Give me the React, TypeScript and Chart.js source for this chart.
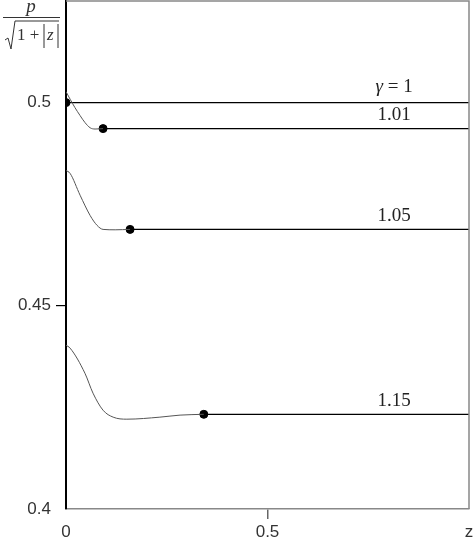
import React, { useEffect, useRef } from "react";
import { Chart, registerables } from "chart.js";

Chart.register(...registerables);

// Curve labels (gamma values)
const gammaLabels = ["1", "1.01", "1.05", "1.15"];
// End points of the transient part (dots), after which the curves are flat
const endZ = [0, 0.092, 0.159, 0.342];
const endP = [0.5, 0.4936, 0.4688, 0.4233];

// Transient curves
const z101 = [0, 0.011, 0.022, 0.035, 0.047, 0.06, 0.072, 0.092];
const p101 = [0.5027, 0.5007, 0.4988, 0.4968, 0.4951, 0.4938, 0.4935, 0.4936];
const z105 = [0, 0.01, 0.035, 0.06, 0.077, 0.092, 0.122, 0.159];
const p105 = [0.4833, 0.4826, 0.4772, 0.4722, 0.4698, 0.4688, 0.4687, 0.4688];
const z115 = [0, 0.01, 0.047, 0.067, 0.092, 0.117, 0.151, 0.233, 0.283, 0.342];
const p115 = [0.4403, 0.4396, 0.4334, 0.4285, 0.4243, 0.4226, 0.4221, 0.4226, 0.4231, 0.4233];

const xTicks = [0, 0.5, 1];
const xTickLabels = ["0", "0.5", "z"];
const yTicks = [0.4, 0.45, 0.5];
const yTickLabels = ["0.4", "0.45", "0.5"];
const labelZ = 0.814;

const SANS = "Arial, 'Liberation Sans', sans-serif";
const SERIF = "'Times New Roman', 'Liberation Serif', serif";

const pts = (xs: number[], ys: number[]) => xs.map((x, i) => ({ x, y: ys[i] }));

export default function App() {
  const ref = useRef<HTMLCanvasElement | null>(null);
  useEffect(() => {
    document.body.style.margin = "0";
    const canvas = ref.current!;
    const curveStyle = { borderColor: "#555", borderWidth: 1, pointRadius: 0, cubicInterpolationMode: "monotone" as const, fill: false };
    const flatStyle = { borderColor: "#000", borderWidth: 1.3, pointRadius: 0, fill: false, tension: 0 };
    const datasets: any[] = [
      { data: pts(z101, p101), ...curveStyle },
      { data: pts(z105, p105), ...curveStyle },
      { data: pts(z115, p115), ...curveStyle },
    ];
    endZ.forEach((z, i) => {
      datasets.push({ data: [{ x: z, y: endP[i] }, { x: 1, y: endP[i] }], ...flatStyle });
    });
    datasets.push({
      type: "scatter",
      data: pts(endZ, endP),
      pointRadius: 4,
      pointBackgroundColor: "#000",
      pointBorderColor: "#000",
      showLine: false,
    });

    const decor = {
      id: "decor",
      afterDraw(chart: any) {
        const { ctx, chartArea, scales } = chart;
        ctx.save();
        // frame (top and right)
        ctx.strokeStyle = "#888";
        ctx.lineWidth = 1.5;
        ctx.beginPath();
        ctx.moveTo(chartArea.left, chartArea.top);
        ctx.lineTo(chartArea.right, chartArea.top);
        ctx.lineTo(chartArea.right, chartArea.bottom);
        ctx.stroke();
        // curve labels
        ctx.fillStyle = "#222";
        ctx.textBaseline = "bottom";
        const xs = scales.x.getPixelForValue(labelZ);
        gammaLabels.forEach((lab, i) => {
          const y = scales.y.getPixelForValue(endP[i]) - 4;
          if (i === 0) {
            ctx.textAlign = "left";
            const g = "γ";
            ctx.font = `italic 19px ${SERIF}`;
            const wg = ctx.measureText(g).width;
            ctx.font = `19px ${SERIF}`;
            const rest = " = " + lab;
            const wr = ctx.measureText(rest).width;
            const x0 = xs - (wg + wr) / 2;
            ctx.font = `italic 19px ${SERIF}`;
            ctx.fillText(g, x0, y - 2);
            ctx.font = `19px ${SERIF}`;
            ctx.fillText(rest, x0 + wg, y - 2);
          } else {
            ctx.font = `19px ${SERIF}`;
            ctx.textAlign = "center";
            ctx.fillText(lab, xs, y);
          }
        });
        // y-axis title: p / sqrt(1+|z|)
        ctx.fillStyle = "#333";
        ctx.strokeStyle = "#333";
        ctx.lineWidth = 1;
        ctx.font = `italic 19px ${SERIF}`;
        ctx.textAlign = "center";
        ctx.textBaseline = "alphabetic";
        ctx.fillText("p", 31, 12);
        ctx.beginPath();
        ctx.moveTo(3, 17.5);
        ctx.lineTo(60, 17.5);
        ctx.stroke();
        // sqrt sign
        ctx.beginPath();
        ctx.moveTo(5, 40);
        ctx.lineTo(8, 38);
        ctx.lineTo(11, 49);
        ctx.lineTo(15, 21);
        ctx.lineTo(59, 21);
        ctx.stroke();
        ctx.font = `17px ${SERIF}`;
        ctx.textAlign = "left";
        ctx.fillText("1 +", 17, 40);
        ctx.beginPath();
        ctx.moveTo(44, 24);
        ctx.lineTo(44, 48);
        ctx.moveTo(58, 24);
        ctx.lineTo(58, 48);
        ctx.stroke();
        ctx.font = `italic 17px ${SERIF}`;
        ctx.fillText("z", 47, 40);
        ctx.restore();
      },
    };

    const chart = new Chart(canvas, {
      type: "line",
      data: { datasets },
      plugins: [decor],
      options: {
        animation: false,
        responsive: false,
        devicePixelRatio: 1,
        layout: { autoPadding: false, padding: { top: 1, right: 4, left: 0, bottom: 0 } },
        plugins: { legend: { display: false }, tooltip: { enabled: false } },
        scales: {
          x: {
            type: "linear",
            min: 0,
            max: 1,
            afterBuildTicks: (s: any) => { s.ticks = xTicks.map((v) => ({ value: v })); },
            afterFit: (s: any) => { s.height = 37; s.paddingLeft = 0; s.paddingRight = 0; },
            border: { display: true, color: "#888", width: 1.5 },
            grid: {
              drawOnChartArea: false,
              drawTicks: true,
              tickLength: 10,
              color: (c: any) => (c.tick && c.tick.value === 0.5 ? "#666" : "rgba(0,0,0,0)"),
              lineWidth: 1.5,
            },
            ticks: {
              maxRotation: 0,
              autoSkip: false,
              padding: 3,
              color: "#333",
              font: { family: SANS, size: 17 },
              callback: (v: any) => xTickLabels[xTicks.indexOf(Number(v))] ?? "",
            },
          },
          y: {
            type: "linear",
            min: 0.4,
            max: 0.525,
            afterBuildTicks: (s: any) => { s.ticks = yTicks.map((v) => ({ value: v })); },
            afterFit: (s: any) => { s.width = 66; s.paddingTop = 0; s.paddingBottom = 0; },
            border: { display: true, color: "#000", width: 2 },
            grid: {
              drawOnChartArea: false,
              drawTicks: true,
              tickLength: 10,
              color: (c: any) => (c.tick && c.tick.value === 0.45 ? "#000" : "rgba(0,0,0,0)"),
              lineWidth: 1.2,
            },
            ticks: {
              autoSkip: false,
              padding: 5,
              color: "#333",
              font: { family: SANS, size: 17 },
              callback: (v: any) => yTickLabels[yTicks.findIndex((t) => Math.abs(t - Number(v)) < 1e-9)] ?? "",
            },
          },
        },
      },
    } as any);
    if ((document as any).fonts && (document as any).fonts.ready) {
      (document as any).fonts.ready.then(() => { try { chart.update(); } catch (e) {} });
    }
    return () => chart.destroy();
  }, []);
  return <canvas ref={ref} width={473} height={546} style={{ display: "block" }} />;
}
